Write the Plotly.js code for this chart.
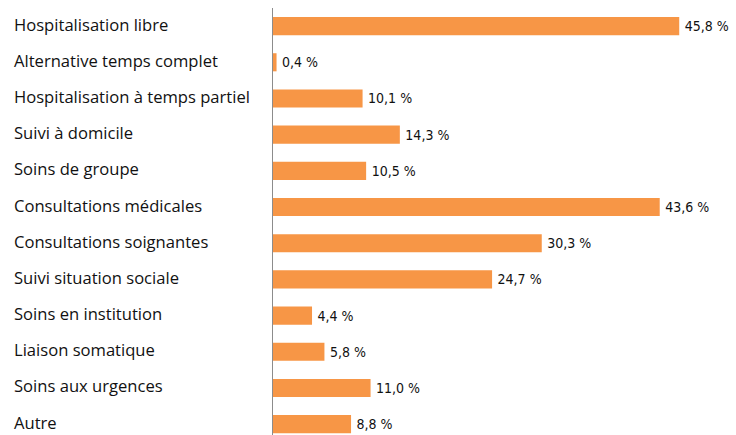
<!DOCTYPE html>
<html><head><meta charset="utf-8">
<script src="https://cdn.plot.ly/plotly-3.0.1.min.js"></script>
<style>html,body{margin:0;padding:0;background:#fff}#chart{width:736px;height:435px}</style>
</head><body><div id="chart"></div>
<script>
const categories = ["Hospitalisation libre","Alternative temps complet","Hospitalisation à temps partiel","Suivi à domicile","Soins de groupe","Consultations médicales","Consultations soignantes","Suivi situation sociale","Soins en institution","Liaison somatique","Soins aux urgences","Autre"];
const values = [45.8,0.4,10.1,14.3,10.5,43.6,30.3,24.7,4.4,5.8,11.0,8.8];
const valueLabels = values.map(v => v.toFixed(1).replace('.', ',') + ' %');

const trace = {
  type: 'bar', orientation: 'h',
  x: values, y: categories,
  marker: {color: '#F79646'},
  text: valueLabels.map(t => '\u2009' + t),
  textposition: 'outside',
  textfont: {family: '"Liberation Sans Narrow", "DejaVu Sans Condensed", sans-serif', size: 14, color: '#111'},
  cliponaxis: false,
  hoverinfo: 'none'
};

const annotations = categories.map(c => ({
  text: c, xref: 'paper', yref: 'y', x: -261/463, y: c,
  xanchor: 'left', yanchor: 'middle', showarrow: false, yshift: 2,
  font: {family: '"Open Sans", "Noto Sans", sans-serif', size: 16.6, color: '#111'}
}));

const layout = {
  width: 736, height: 435,
  margin: {l: 273, r: 0, t: 8, b: 0},
  paper_bgcolor: '#fff', plot_bgcolor: '#fff',
  bargap: 0.5,
  showlegend: false,
  xaxis: {range: [0, 52.2], showgrid: false, zeroline: false, showticklabels: false, showline: false, ticks: ''},
  yaxis: {type: 'category', range: [11.3, -0.5], showgrid: false, zeroline: false, showticklabels: false,
          showline: true, linecolor: '#8c8c8c', linewidth: 1.5, ticks: ''},
  annotations: annotations
};

Plotly.newPlot('chart', [trace], layout, {displayModeBar: false, staticPlot: true});
</script></body></html>
